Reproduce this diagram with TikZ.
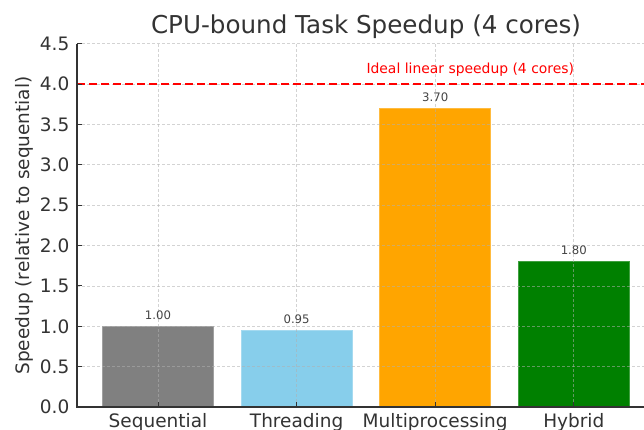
\documentclass[tikz,border=0pt]{standalone}
\usepackage{fontspec}
\setmainfont{DejaVu Sans}
\definecolor{txt}{HTML}{333333}
\definecolor{valtxt}{HTML}{444444}
\definecolor{spinecol}{HTML}{333333}
\definecolor{gridcol}{HTML}{B0B0B0}
\definecolor{barSeq}{HTML}{808080}
\definecolor{barThr}{HTML}{87CEEB}
\definecolor{barMp}{HTML}{FFA500}
\definecolor{barHy}{HTML}{008000}
\definecolor{idealred}{HTML}{FF0000}
\tikzset{
  gridline/.style={draw=gridcol, opacity=0.55, line width=0.8pt, dash pattern=on 3pt off 2pt},
  spine/.style={draw=spinecol, line width=1.3pt},
  tickmark/.style={draw=spinecol, line width=1pt},
  idealline/.style={draw=idealred, line width=1.9pt, dash pattern=on 8pt off 4pt},
  barbox/.style={line width=0.8pt},
  ticklabel/.style={text=txt, inner sep=0pt, font=\fontsize{18.5}{20}\selectfont},
  vallabel/.style={text=valtxt, inner sep=0pt, font=\fontsize{11.7}{13}\selectfont, anchor=base},
  titlelabel/.style={text=txt, inner sep=0pt, font=\fontsize{24.6}{28}\selectfont, anchor=base},
  ideallabel/.style={text=idealred, inner sep=0pt, font=\fontsize{13.9}{15}\selectfont, anchor=base east},
}
\begin{document}
\begin{tikzpicture}[x=1pt,y=1pt]
\useasboundingbox (0,0) rectangle (644,430);
\clip (0,0) rectangle (644,430);
\fill[white] (0,0) rectangle (644,430);

% title and y-axis label
\node[titlelabel] (title) at (366,396.7) {CPU-bound Task Speedup (4 cores)};
\node[ticklabel, rotate=90] (ylabel) at (24.2,204.5) {Speedup (relative to sequential)};

% data coordinates: one category per unit, one speedup unit per 80.7pt
\begin{scope}[shift={(158,23)}, x=138.6pt, y=80.7pt]
  % bars
  \filldraw[barbox, fill=barSeq, draw=barSeq!75!white] (-0.4,0) rectangle (0.4,1.00);
  \filldraw[barbox, fill=barThr, draw=barThr!75!white] (0.6,0) rectangle (1.4,0.95);
  \filldraw[barbox, fill=barMp,  draw=barMp!75!white]  (1.6,0) rectangle (2.4,3.70);
  \filldraw[barbox, fill=barHy,  draw=barHy!75!white]  (2.6,0) rectangle (3.4,1.80);

  % grid on top of the bars
  \foreach \v in {0.5,1.0,...,4.5}
    \draw[gridline] (-0.5844,\v) -- (3.7,\v);
  \foreach \i in {0,1,2,3}
    \draw[gridline] (\i,0) -- (\i,4.5);

  % ideal speedup reference
  \draw[idealline] (-0.5844,4) -- (3.7,4);
  \node[ideallabel] (ideal) at (3.003,4.136) {Ideal linear speedup (4 cores)};

  % spines
  \draw[spine] (-0.5844,4.5) -- (-0.5844,0) -- (3.7,0);

  % ticks (pointing inwards) and tick labels
  \foreach \i/\name in {0/Sequential,1/Threading,2/Multiprocessing,3/Hybrid} {
    \draw[tickmark] (\i,0) -- ++(0,5pt);
    \node[ticklabel, anchor=north] (xt\i) at ([yshift=-6.5pt]\i,0) {\name};
  }
  \foreach \v/\lab in {0/0.0,0.5/0.5,1/1.0,1.5/1.5,2/2.0,2.5/2.5,3/3.0,3.5/3.5,4/4.0,4.5/4.5} {
    \draw[tickmark] (-0.5844,\v) -- ++(5pt,0);
    \node[ticklabel, anchor=east] (yt\lab) at ([xshift=-7.5pt]-0.5844,\v) {\lab};
  }

  % value labels above the bars
  \node[vallabel] (v0) at ([yshift=7pt]0,1.00) {1.00};
  \node[vallabel] (v1) at ([yshift=7pt]1,0.95) {0.95};
  \node[vallabel] (v2) at ([yshift=7pt]2,3.70) {3.70};
  \node[vallabel] (v3) at ([yshift=7pt]3,1.80) {1.80};
\end{scope}
\end{tikzpicture}
\end{document}
